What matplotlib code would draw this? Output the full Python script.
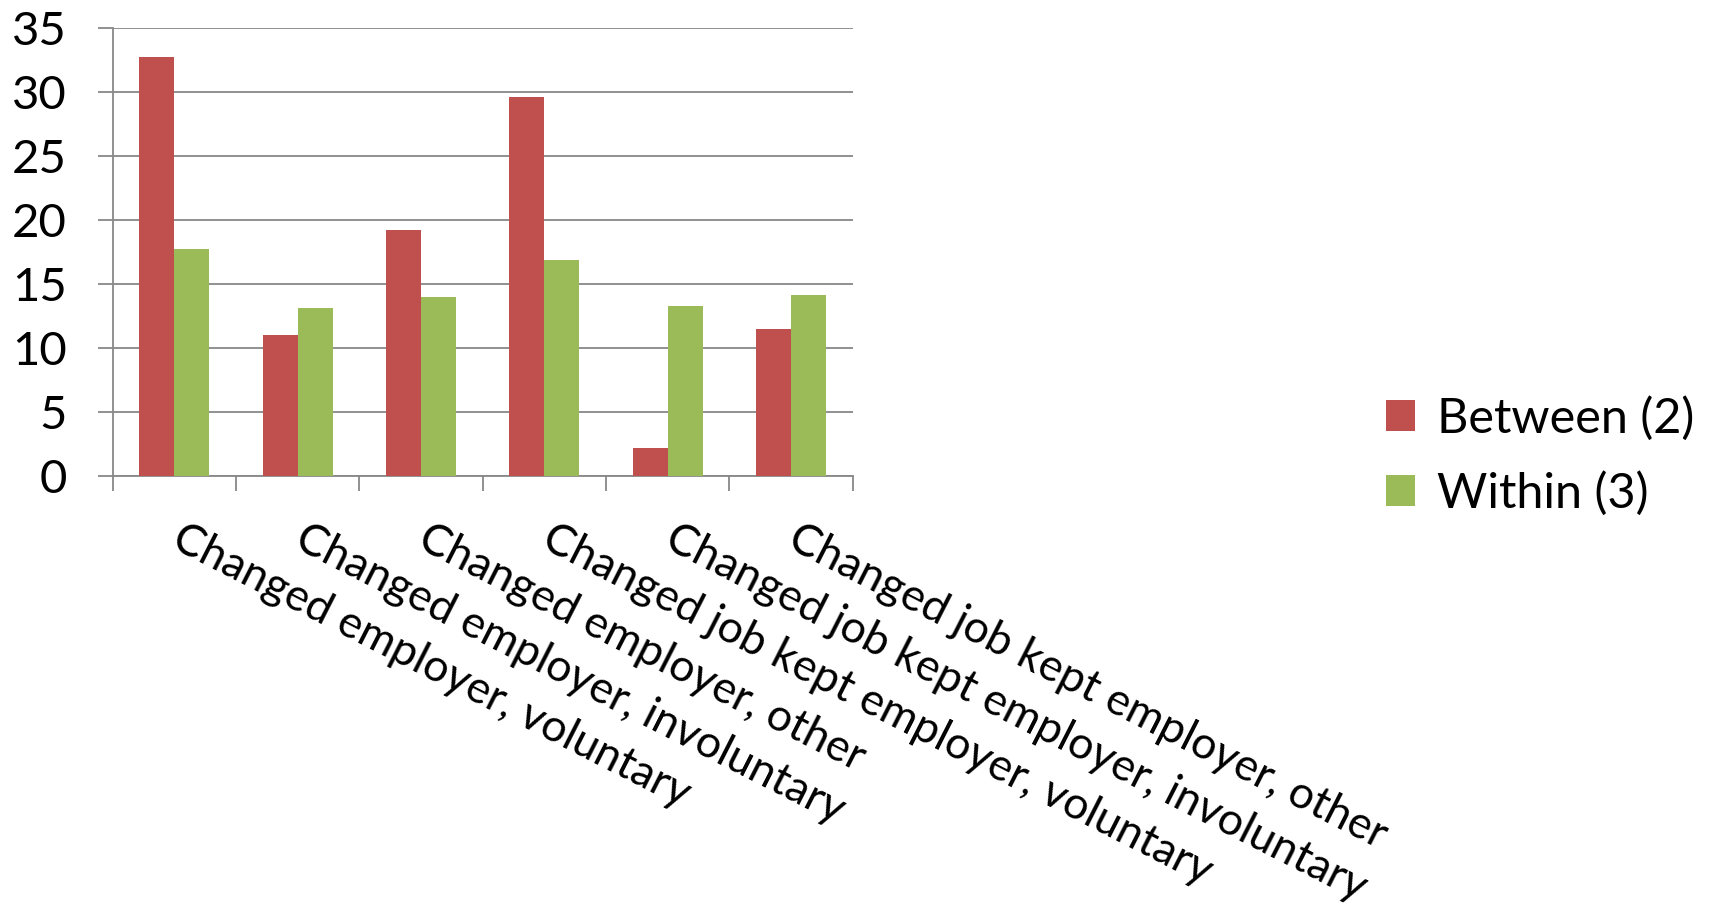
import matplotlib
matplotlib.use("Agg")
import matplotlib.pyplot as plt
import numpy as np

categories = [
    "Changed employer, voluntary",
    "Changed employer, involuntary",
    "Changed employer, other",
    "Changed job kept employer, voluntary",
    "Changed job kept employer, involuntary",
    "Changed job kept employer, other",
]
between = [32.7, 11.0, 19.2, 29.6, 2.2, 11.5]
within = [17.7, 13.1, 14.0, 16.9, 13.3, 14.1]
series_names = ["Between (2)", "Within (3)"]

plt.rcParams["font.family"] = ["Lato", "DejaVu Sans"]

fig = plt.figure(figsize=(17.09, 9.06), dpi=100)
ax = fig.add_axes([0.066, 0.4746, 0.433, 0.4948])

x = np.arange(len(categories))
w = 0.284
grid_c = "#888888"
ax.bar(x - w / 2, between, w, color="#C0504D", label=series_names[0], zorder=3)
ax.bar(x + w / 2, within, w, color="#9BBB59", label=series_names[1], zorder=3)

ax.set_xlim(-0.5, len(categories) - 0.5)
ax.set_ylim(0, 35)
ax.set_yticks(range(0, 36, 5))
ax.yaxis.grid(True, color=grid_c, linewidth=1.3, zorder=0)

for s in ["top", "right"]:
    ax.spines[s].set_visible(False)
for s in ["left", "bottom"]:
    ax.spines[s].set_color(grid_c)
    ax.spines[s].set_linewidth(1.3)

ax.tick_params(axis="y", length=11, width=1.3, color=grid_c, labelsize=34, pad=22)
ax.set_xticks(np.arange(-0.5, len(categories), 1.0))
ax.set_xticklabels([])
ax.tick_params(axis="x", length=11, width=1.3, color=grid_c)

# category labels hang down to the right from under each group
for i, lab in enumerate(categories):
    ax.text(i + 0.08, -3.2, lab, rotation=-27, rotation_mode="anchor",
            ha="left", va="top", fontsize=32, transform=ax.transData,
            clip_on=False)

fig.legend(loc="center left", bbox_to_anchor=(0.811, 0.497), frameon=False,
           fontsize=35, handlelength=0.6, handleheight=0.6,
           handletextpad=0.45, labelspacing=0.62, borderpad=0,
           borderaxespad=0)

fig.savefig("out.png", dpi=100)
